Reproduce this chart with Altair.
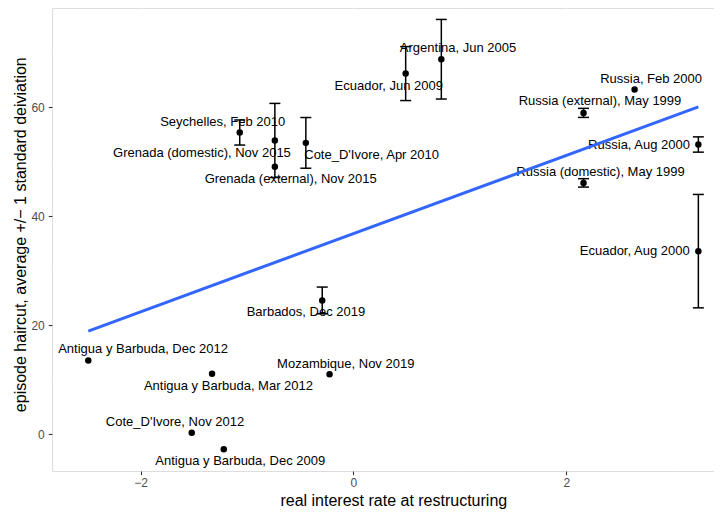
import altair as alt
import pandas as pd

names = [
    "Seychelles, Feb 2010",
    "Grenada (domestic), Nov 2015",
    "Grenada (external), Nov 2015",
    "Cote_D'Ivore, Apr 2010",
    "Ecuador, Jun 2009",
    "Argentina, Jun 2005",
    "Russia, Feb 2000",
    "Russia (external), May 1999",
    "Russia, Aug 2000",
    "Russia (domestic), May 1999",
    "Ecuador, Aug 2000",
    "Barbados, Dec 2019",
    "Antigua y Barbuda, Dec 2012",
    "Antigua y Barbuda, Mar 2012",
    "Mozambique, Nov 2019",
    "Cote_D'Ivore, Nov 2012",
    "Antigua y Barbuda, Dec 2009",
]
real_rate = [-1.068, -0.738, -0.738, -0.447, 0.491, 0.826, 2.642, 2.162, 3.241,
             2.162, 3.241, -0.293, -2.491, -1.328, -0.224, -1.519, -1.218]
haircut = [55.36, 53.9, 49.06, 53.46, 66.17, 68.8, 63.24, 58.96, 53.16,
           46.12, 33.6, 24.56, 13.56, 11.11, 11.0, 0.3, -2.75]
std_dev = [2.3, 6.8, None, 4.65, 4.95, 7.3, None, 0.83, 1.4,
           0.77, 10.4, 2.45, None, None, None, None, None]
label_x = [-1.228, -1.423, -0.59, 0.171, 0.332, 0.983, 2.797, 2.317, 2.684,
           2.322, 2.643, -0.446, -1.976, -1.174, -0.072, -1.676, -1.063]
label_y = [57.3, 51.6, 46.8, 51.3, 63.9, 70.9, 65.2, 61.1, 53.16,
           48.1, 33.6, 22.36, 15.58, 8.91, 12.94, 2.31, -4.89]

df = pd.DataFrame({
    "name": names,
    "rate": real_rate,
    "haircut": haircut,
    "sd": std_dev,
    "label_x": label_x,
    "label_y": label_y,
})
df["lo"] = df["haircut"] - df["sd"]
df["hi"] = df["haircut"] + df["sd"]
bars = df.dropna(subset=["sd"])

FONT = "Liberation Sans"
xs = alt.Scale(domain=[-2.832, 3.388], nice=False, zero=False)
ys = alt.Scale(domain=[-6.73, 78.2], nice=False, zero=False)

x_axis = alt.Axis(
    values=[-2, -1, 0, 1, 2, 3],
    labelExpr="datum.value % 2 === 0 ? datum.label : ''",
    grid=True,
    gridColor="white",
    gridWidth={"condition": {"test": "datum.value % 2 === 0", "value": 1.5}, "value": 0.75},
    tickColor={"condition": {"test": "datum.value % 2 === 0", "value": "#333333"}, "value": "transparent"},
    tickSize=3.7,
    tickWidth=1.1,
    domain=False,
    labelFontSize=12,
    labelColor="#4D4D4D",
    labelPadding=3,
    labelFont=FONT,
    title="real interest rate at restructuring",
    titleFontSize=16,
    titleFontWeight="normal",
    titleColor="black",
    titleFont=FONT,
    titleX=341.3,
    titleY=34.5,
    titleBaseline="alphabetic",
    titleAnchor="middle",
)
y_axis = alt.Axis(
    values=[0, 10, 20, 30, 40, 50, 60, 70],
    labelExpr="datum.value % 20 === 0 ? datum.label : ''",
    grid=True,
    gridColor="white",
    gridWidth={"condition": {"test": "datum.value % 20 === 0", "value": 1.5}, "value": 0.75},
    tickColor={"condition": {"test": "datum.value % 20 === 0", "value": "#333333"}, "value": "transparent"},
    tickSize=3.7,
    tickWidth=1.1,
    domain=False,
    labelFontSize=12,
    labelColor="#4D4D4D",
    labelPadding=4,
    labelFont=FONT,
    title="episode haircut, average +/\u2212 1 standard deiviation",
    titleFontSize=16,
    titleFontWeight="normal",
    titleColor="black",
    titleFont=FONT,
    titleAngle=270,
    titleX=-26.5,
    titleY=226.2,
    titleBaseline="alphabetic",
    titleAlign="center",
)

def X(field):
    return alt.X(field, type="quantitative", scale=xs, axis=x_axis)

def Y(field):
    return alt.Y(field, type="quantitative", scale=ys, axis=y_axis)

rules = alt.Chart(bars).mark_rule(color="black", strokeWidth=1.5).encode(
    x=X("rate"), y=Y("lo"), y2="hi"
)
caps_lo = alt.Chart(bars).mark_point(
    shape="M-1,0L1,0", size=121, strokeWidth=1.5, color="black", filled=False, opacity=1
).encode(x=X("rate"), y=Y("lo"))
caps_hi = alt.Chart(bars).mark_point(
    shape="M-1,0L1,0", size=121, strokeWidth=1.5, color="black", filled=False, opacity=1
).encode(x=X("rate"), y=Y("hi"))
points = alt.Chart(df).mark_circle(size=42, color="black", opacity=1).encode(
    x=X("rate"), y=Y("haircut")
)
labels = alt.Chart(df).mark_text(
    fontSize=13, font=FONT, color="black", align="center", baseline="middle"
).encode(x=X("label_x"), y=Y("label_y"), text="name")
fit = alt.Chart(df).transform_regression("rate", "haircut").mark_line(
    color="#3366FF", strokeWidth=3
).encode(x=X("rate"), y=Y("haircut"))

chart = alt.layer(rules, caps_lo, caps_hi, points, labels, fit).properties(
    width=662,
    height=463,
    autosize=alt.AutoSizeParams(type="none"),
    padding={"left": 44, "top": 0, "right": 0, "bottom": 44},
    background="white",
).configure_view(fill="#EBEBEB", stroke=None).configure(font=FONT)

chart.save("out.html", embed_options={"renderer": "svg", "actions": False})
